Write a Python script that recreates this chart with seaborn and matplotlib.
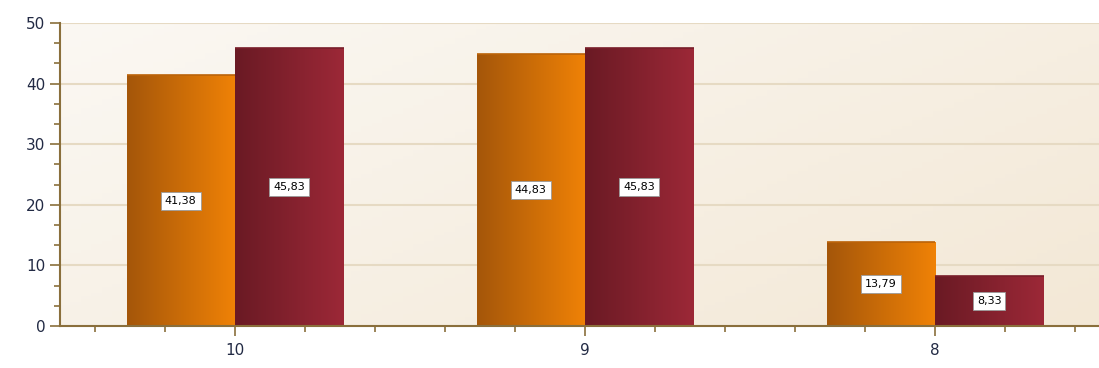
import numpy as np
import pandas as pd
import seaborn as sns
import matplotlib.pyplot as plt
from matplotlib.colors import LinearSegmentedColormap
from matplotlib.ticker import MultipleLocator, FixedLocator

categories = ["10", "9", "8"]
series_a = [41.38, 44.83, 13.79]
series_b = [45.83, 45.83, 8.33]
series_names = ["Serie A", "Serie B"]

# gradient stops for each series (left -> right)
grad_a = ["#a4560a", "#f08206"]
grad_b = ["#6a1a24", "#9c2837"]

df = pd.DataFrame({
    "cat": categories * 2,
    "value": series_a + series_b,
    "serie": [series_names[0]] * 3 + [series_names[1]] * 3,
})

sns.set_style("white")
plt.rcParams['font.family'] = ['DejaVu Sans']

fig = plt.figure(figsize=(10.99, 3.68), dpi=100)
ax = fig.add_axes([60 / 1099, 42 / 368, 1039 / 1099, 303 / 368])

sns.barplot(data=df, x="cat", y="value", hue="serie", order=categories,
            palette=[grad_a[1], grad_b[1]], width=0.62, gap=0,
            legend=False, ax=ax, zorder=2, linewidth=0)

ax.set_xlim(-0.5, -0.5 + 1039 / 350)
ax.set_ylim(0, 50)

# background gradient: lighter top-left, more beige bottom-right
bg = LinearSegmentedColormap.from_list("bg", ["#fbf8f3", "#f3e8d6"])
yy, xx = np.mgrid[0:1:100j, 0:1:100j]
ax.imshow(xx * 0.6 + yy * 0.4, cmap=bg, extent=[0, 1, 0, 1],
          transform=ax.transAxes, aspect="auto", zorder=0, origin="upper")

# gradient fill on each bar
ramp = np.linspace(0, 1, 256).reshape(1, -1)
cmaps = [LinearSegmentedColormap.from_list("a", grad_a),
         LinearSegmentedColormap.from_list("b", grad_b)]
for i, patch in enumerate(ax.patches):
    cm = cmaps[i // 3]
    x0, y0 = patch.get_x(), patch.get_y()
    w, h = patch.get_width(), patch.get_height()
    if h <= 0:
        continue
    im = ax.imshow(ramp, cmap=cm, extent=[x0, x0 + w, y0, y0 + h],
                   aspect="auto", zorder=3)
    im.set_clip_path(patch)
    ax.plot([x0, x0 + w], [h, h], color=cm(0.3), lw=1.2, zorder=4,
            solid_capstyle="butt")
    label = f"{h:.2f}".replace(".", ",")
    ax.text(x0 + w / 2, h / 2, label, ha="center", va="center", fontsize=8,
            color="black", zorder=5,
            bbox=dict(boxstyle="square,pad=0.35", fc="white", ec="#9a9a9a", lw=0.6))

ax.set_xlim(-0.5, -0.5 + 1039 / 350)
ax.set_ylim(0, 50)

# grid
for v in range(10, 51, 10):
    ax.axhline(v, color="#e6dac3", lw=1.5, zorder=1)

axis_col = "#8a6f3c"
for s in ["top", "right"]:
    ax.spines[s].set_visible(False)
for s in ["left", "bottom"]:
    ax.spines[s].set_color(axis_col)
    ax.spines[s].set_linewidth(1.5)
    ax.spines[s].set_zorder(6)

ax.yaxis.set_major_locator(MultipleLocator(10))
ax.yaxis.set_minor_locator(MultipleLocator(10 / 3))
minor_x = [round(v, 2) for v in np.arange(-0.4, 2.5, 0.2) if abs(v - round(v)) > 0.05]
ax.xaxis.set_minor_locator(FixedLocator(minor_x))
ax.tick_params(axis="y", which="major", direction="out", length=7, width=1.2,
               color=axis_col, labelsize=11, labelcolor="#222a44", left=True)
ax.tick_params(axis="y", which="minor", direction="out", length=4, width=1.2,
               color=axis_col, left=True)
ax.tick_params(axis="x", which="major", direction="out", length=7, width=1.2,
               color=axis_col, labelsize=11, labelcolor="#222a44", bottom=True, pad=5)
ax.tick_params(axis="x", which="minor", direction="out", length=4, width=1.2,
               color=axis_col, bottom=True)
ax.set_xlabel("")
ax.set_ylabel("")

fig.savefig("out.png", dpi=100)
